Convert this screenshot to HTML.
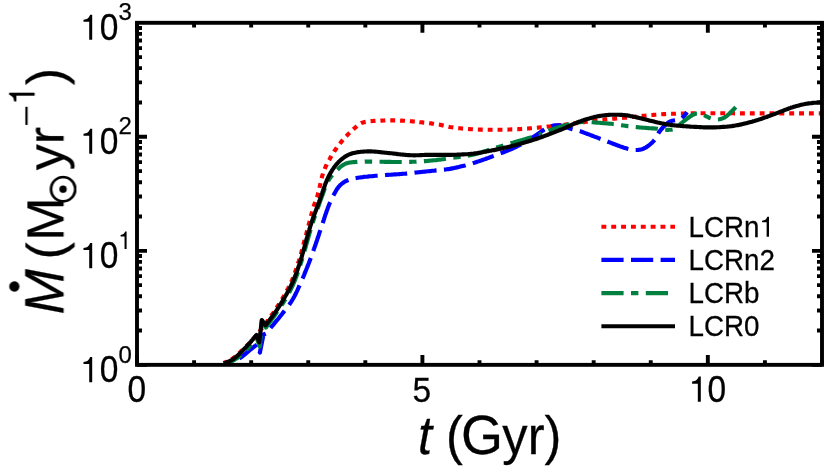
<!DOCTYPE html>
<html><head><meta charset="utf-8"><title>Mdot vs t</title>
<style>
html,body{margin:0;padding:0;background:#fff;}
body{width:830px;height:471px;overflow:hidden;position:relative;font-family:"Liberation Sans",sans-serif;}
</style></head><body>
<svg width="830" height="471" viewBox="0 0 830 471" style="position:absolute;left:0;top:0">
<rect x="0" y="0" width="830" height="471" fill="#ffffff"/>
<defs><clipPath id="cp"><rect x="137.0" y="22.8" width="685.0" height="342.1"/></clipPath></defs>
<g clip-path="url(#cp)">
<path d="M223.5,363.0 L224.2,362.7 L225.1,362.3 L226.1,361.8 L227.3,361.3 L228.6,360.7 L229.9,360.0 L231.3,359.3 L232.7,358.4 L234.0,357.5 L234.9,356.8 L235.8,356.1 L236.7,355.3 L237.7,354.4 L238.7,353.6 L239.7,352.6 L240.7,351.7 L241.6,350.7 L242.6,349.8 L243.6,348.9 L244.5,348.0 L245.4,347.1 L246.2,346.3 L247.0,345.5 L248.1,344.4 L249.1,343.4 L250.0,342.5 L250.9,341.6 L251.7,340.7 L252.5,339.8 L253.3,338.9 L254.1,338.0 L255.0,337.0 L255.8,336.1 L256.5,335.2 L257.3,334.3 L258.0,333.5 L258.7,332.6 L259.5,331.6 L260.3,330.6 L261.1,329.5 L262.0,328.3 L263.0,327.0 L263.6,326.2 L264.3,325.3 L265.0,324.3 L265.7,323.4 L266.4,322.3 L267.2,321.3 L268.0,320.2 L268.8,319.1 L269.6,318.0 L270.3,316.9 L271.1,315.8 L271.9,314.7 L272.7,313.6 L273.4,312.6 L274.1,311.5 L274.8,310.5 L275.5,309.5 L276.2,308.4 L276.9,307.3 L277.6,306.3 L278.3,305.2 L279.0,304.2 L279.6,303.1 L280.2,302.1 L280.9,301.1 L281.5,300.1 L282.1,299.1 L282.7,298.0 L283.3,297.0 L283.9,296.0 L284.4,295.0 L285.0,294.0 L285.6,292.8 L286.3,291.7 L286.9,290.6 L287.5,289.5 L288.1,288.4 L288.6,287.3 L289.2,286.2 L289.8,285.1 L290.3,283.9 L290.9,282.8 L291.4,281.6 L292.0,280.3 L292.5,279.0 L292.9,278.0 L293.3,276.9 L293.8,275.8 L294.2,274.7 L294.6,273.5 L295.0,272.3 L295.5,271.1 L295.9,269.9 L296.3,268.7 L296.7,267.5 L297.1,266.3 L297.5,265.1 L297.9,264.0 L298.2,262.8 L298.6,261.7 L299.0,260.6 L299.3,259.5 L299.7,258.2 L300.1,257.0 L300.4,255.8 L300.8,254.6 L301.1,253.4 L301.4,252.3 L301.7,251.1 L302.0,250.0 L302.3,248.9 L302.6,247.7 L302.9,246.6 L303.2,245.5 L303.5,244.3 L303.8,243.1 L304.1,241.9 L304.5,240.7 L304.8,239.5 L305.1,238.3 L305.4,237.1 L305.8,235.9 L306.1,234.6 L306.4,233.4 L306.7,232.2 L307.1,231.0 L307.4,229.7 L307.7,228.5 L308.1,227.3 L308.4,226.0 L308.7,224.8 L309.0,223.6 L309.3,222.4 L309.7,221.2 L310.0,219.9 L310.3,218.7 L310.6,217.5 L310.9,216.2 L311.3,215.0 L311.6,213.8 L311.9,212.6 L312.2,211.4 L312.6,210.2 L312.9,209.1 L313.2,208.0 L313.6,206.7 L314.0,205.5 L314.4,204.3 L314.8,203.2 L315.2,202.1 L315.6,201.0 L316.0,199.8 L316.4,198.7 L316.8,197.5 L317.3,196.3 L317.7,194.9 L318.1,193.5 L318.4,192.5 L318.7,191.4 L318.9,190.3 L319.2,189.1 L319.5,188.0 L319.7,186.7 L320.0,185.5 L320.3,184.3 L320.5,183.0 L320.8,181.7 L321.1,180.5 L321.4,179.2 L321.7,178.0 L322.0,176.8 L322.3,175.6 L322.7,174.4 L323.0,173.3 L323.4,172.2 L323.9,170.9 L324.4,169.7 L324.9,168.5 L325.4,167.3 L325.9,166.1 L326.5,165.0 L327.0,163.9 L327.6,162.7 L328.2,161.6 L328.8,160.5 L329.4,159.5 L330.0,158.4 L330.6,157.3 L331.3,156.3 L331.9,155.2 L332.5,154.1 L333.2,153.1 L333.9,152.1 L334.5,151.0 L335.2,150.0 L335.9,149.0 L336.6,148.0 L337.3,147.0 L338.0,146.1 L338.7,145.1 L339.5,144.1 L340.2,143.2 L341.0,142.3 L341.7,141.3 L342.5,140.4 L343.3,139.5 L344.1,138.5 L345.0,137.6 L345.8,136.6 L346.7,135.7 L347.6,134.8 L348.5,133.9 L349.4,133.0 L350.3,132.1 L351.2,131.2 L352.1,130.4 L352.9,129.6 L353.7,128.9 L354.5,128.2 L355.2,127.6 L356.4,126.6 L357.4,125.7 L358.3,124.9 L359.2,124.3 L360.1,123.7 L361.1,123.2 L362.3,122.7 L363.7,122.3 L364.6,122.1 L365.6,121.9 L366.7,121.7 L367.8,121.5 L369.0,121.4 L370.2,121.2 L371.4,121.1 L372.7,121.0 L374.0,120.9 L375.3,120.9 L376.6,120.8 L378.0,120.7 L379.3,120.7 L380.7,120.6 L381.8,120.6 L383.0,120.5 L384.2,120.5 L385.5,120.4 L386.7,120.4 L388.0,120.4 L389.3,120.4 L390.6,120.4 L391.9,120.4 L393.2,120.4 L394.5,120.4 L395.8,120.4 L397.0,120.4 L398.3,120.5 L399.6,120.5 L400.8,120.6 L402.0,120.6 L403.3,120.7 L404.7,120.7 L406.0,120.8 L407.3,120.9 L408.6,121.0 L409.9,121.1 L411.2,121.3 L412.5,121.4 L413.7,121.5 L415.0,121.6 L416.2,121.8 L417.4,121.9" fill="none" stroke="#ff0000" stroke-width="4.15" stroke-dasharray="4.90 4.95" stroke-dashoffset="1.11" stroke-linejoin="round"/>
<path d="M417.4,121.9 L417.4,121.9 L418.7,122.0 L419.9,122.2 L421.1,122.3 L422.4,122.4 L423.7,122.6 L425.0,122.7 L426.2,122.9 L427.5,123.0 L428.7,123.1 L430.0,123.3 L431.2,123.4 L432.4,123.6 L433.6,123.7 L434.8,123.9 L435.9,124.1 L437.0,124.2 L438.1,124.4 L439.4,124.6 L440.6,124.9 L441.7,125.1 L442.8,125.4 L443.9,125.7 L444.9,125.9 L446.0,126.2 L447.1,126.5 L448.4,126.7 L449.7,127.0 L451.2,127.2 L452.2,127.3 L453.3,127.5 L454.4,127.6 L455.5,127.8 L456.7,127.9 L457.9,128.1 L459.1,128.2 L460.3,128.3 L461.6,128.5 L462.9,128.6 L464.2,128.7 L465.5,128.8 L466.9,128.9 L468.3,129.0 L469.7,129.1 L471.1,129.2 L472.5,129.3 L473.6,129.4 L474.7,129.4 L475.8,129.4 L477.0,129.5 L478.1,129.5 L479.3,129.6 L480.5,129.6 L481.7,129.6 L482.9,129.6 L484.2,129.7 L485.4,129.7 L486.7,129.7 L487.9,129.7 L489.2,129.7 L490.4,129.7 L491.7,129.7 L492.9,129.7 L494.1,129.7 L495.3,129.7 L496.6,129.7 L497.8,129.7 L498.9,129.7 L500.1,129.7 L501.4,129.7 L502.6,129.7 L503.9,129.6 L505.1,129.6 L506.4,129.6 L507.6,129.6 L508.8,129.5 L510.1,129.5 L511.3,129.4 L512.5,129.4 L513.7,129.3 L514.9,129.3 L516.1,129.2 L517.3,129.2 L518.5,129.1 L519.7,129.1 L520.9,129.0 L522.1,128.9 L523.3,128.8 L524.4,128.8 L525.6,128.7 L526.9,128.6 L528.2,128.5 L529.4,128.4 L530.7,128.3 L532.0,128.2 L533.2,128.1 L534.5,128.0 L535.7,127.9 L537.0,127.8 L538.2,127.6 L539.4,127.5 L540.6,127.4 L541.9,127.3 L543.1,127.1 L544.3,127.0 L545.5,126.9 L546.6,126.8 L547.8,126.6 L549.0,126.5 L550.3,126.4 L551.6,126.2 L553.0,126.1 L554.3,125.9 L555.7,125.8 L557.0,125.6 L558.3,125.4 L559.6,125.3 L560.9,125.1 L562.2,125.0 L563.3,124.8" fill="none" stroke="#ff0000" stroke-width="4.15" stroke-dasharray="4.90 4.95" stroke-dashoffset="7.88" stroke-linejoin="round"/>
<path d="M563.3,124.8 L563.4,124.8 L564.6,124.7 L565.8,124.5 L566.9,124.4 L568.0,124.3 L569.0,124.1 L570.0,124.0 L571.6,123.8 L572.9,123.6 L574.0,123.5 L575.0,123.3 L575.9,123.2 L576.9,123.1 L578.0,122.9 L579.4,122.7 L581.0,122.5 L581.9,122.4 L582.9,122.2 L584.0,122.1 L585.1,121.9 L586.2,121.8 L587.4,121.6 L588.6,121.5 L589.9,121.3 L591.1,121.1 L592.4,121.0 L593.7,120.8 L595.0,120.6 L596.3,120.4 L597.5,120.3 L598.8,120.1 L600.1,120.0 L601.3,119.8 L602.5,119.7 L603.8,119.6 L605.0,119.4 L606.3,119.3 L607.5,119.2 L608.8,119.1 L610.0,119.0 L611.2,118.9 L612.5,118.8 L613.7,118.7 L615.0,118.6 L616.2,118.4 L617.5,118.3 L618.7,118.2 L620.0,118.1 L621.2,118.0 L622.5,117.9 L623.7,117.8 L625.0,117.7 L626.2,117.6 L627.5,117.4 L628.7,117.3 L630.0,117.2 L631.2,117.1 L632.5,116.9 L633.7,116.8 L635.0,116.7 L636.2,116.5 L637.5,116.4 L638.8,116.3 L640.0,116.2 L641.3,116.0 L642.5,115.9 L643.8,115.8 L645.0,115.7 L646.2,115.6 L647.5,115.5 L648.7,115.4 L650.0,115.2 L651.2,115.1 L652.4,115.0 L653.6,114.9 L654.9,114.8 L656.1,114.7 L657.3,114.6 L658.6,114.5 L659.8,114.4 L661.0,114.3 L662.3,114.2 L663.5,114.1 L664.8,114.1 L666.0,114.0 L667.3,113.9 L668.6,113.9 L669.9,113.8 L671.2,113.8 L672.6,113.7 L673.9,113.7 L675.3,113.7 L676.6,113.6 L677.9,113.6 L679.3,113.6 L680.6,113.5 L681.8,113.5 L683.0,113.5 L684.2,113.5 L685.4,113.4 L686.5,113.4 L687.5,113.4 L688.9,113.4 L689.8,113.3 L690.4,113.3 L690.9,113.3 L691.3,113.3 L692.0,113.2 L693.0,113.2 L694.6,113.2 L696.9,113.2 L700.0,113.2 L700.7,113.2 L701.5,113.2 L702.3,113.2 L703.2,113.2 L704.1,113.2 L705.0,113.2 L705.9,113.2 L706.9,113.2 L707.9,113.2 L708.9,113.2 L710.0,113.2 L711.1,113.2 L712.2,113.2 L713.3,113.2 L714.4,113.2 L715.6,113.2 L716.8,113.2 L718.0,113.2 L719.2,113.2 L720.5,113.2 L721.7,113.2 L723.0,113.2 L724.3,113.2 L725.6,113.2 L726.9,113.2 L728.2,113.2 L729.6,113.2 L730.9,113.2 L732.2,113.2 L733.6,113.3 L734.9,113.3 L736.3,113.3 L737.6,113.3 L739.0,113.3 L740.4,113.3 L741.7,113.3 L743.1,113.3 L744.4,113.3 L745.8,113.3 L747.1,113.3 L748.4,113.3 L749.8,113.3 L751.1,113.3 L752.4,113.3 L753.7,113.3 L755.0,113.3 L756.3,113.3 L757.5,113.3 L758.8,113.3 L760.0,113.3 L761.2,113.3 L762.4,113.3 L763.7,113.3 L765.0,113.3 L766.3,113.3 L767.6,113.3 L768.9,113.3 L770.3,113.3 L771.6,113.3 L773.0,113.3 L774.4,113.3 L775.8,113.3 L777.2,113.3 L778.6,113.3 L780.0,113.3 L781.4,113.3 L782.8,113.3 L784.2,113.3 L785.7,113.3 L787.1,113.3 L788.5,113.3 L789.9,113.3 L791.3,113.3 L792.7,113.3 L794.1,113.3 L795.4,113.3 L796.8,113.3 L798.1,113.3 L799.5,113.3 L800.8,113.3 L802.1,113.3 L803.4,113.3 L804.6,113.3 L805.9,113.3 L807.1,113.3 L808.2,113.3 L809.4,113.3 L810.5,113.3 L811.6,113.3 L812.7,113.3 L813.7,113.3 L814.7,113.3 L815.7,113.3 L816.6,113.3 L817.5,113.3 L818.4,113.3 L819.2,113.3 L820.0,113.3 L820.7,113.3 L821.4,113.3 L822.0,113.3" fill="none" stroke="#ff0000" stroke-width="4.15" stroke-dasharray="4.90 4.95" stroke-dashoffset="9.79" stroke-linejoin="round"/>
<path d="M226.7,365.0 L227.4,364.7 L228.2,364.3 L229.2,363.8 L230.3,363.2 L231.5,362.6 L232.7,362.0 L234.0,361.3 L235.3,360.7 L236.6,360.0 L237.8,359.3 L239.0,358.6 L240.0,358.0 L241.1,357.2 L242.3,356.4 L243.3,355.6 L244.4,354.8 L245.4,353.9 L246.4,353.1 L247.3,352.2 L248.2,351.5 L249.1,350.7 L250.0,350.0 L251.2,349.0 L252.4,348.1 L253.6,347.2 L254.6,346.3 L255.6,345.6 L256.4,345.0 L257.0,344.5 L259.9,352.5 L263.5,334.5 L265.9,333.5 L266.3,333.0 L266.9,332.3 L267.5,331.6 L268.2,330.8 L268.9,329.9 L269.7,329.0 L270.6,328.0 L271.4,326.9 L272.3,325.9 L273.3,324.8 L274.2,323.6 L275.1,322.5 L276.0,321.4 L276.9,320.3 L277.8,319.3 L278.7,318.2 L279.5,317.2 L280.2,316.3 L281.1,315.2 L281.9,314.2 L282.7,313.1 L283.5,312.1 L284.3,311.1 L285.1,310.1 L285.9,309.1 L286.7,308.2 L287.4,307.2 L288.2,306.2 L288.9,305.2 L289.6,304.2 L290.3,303.1 L291.0,302.1 L291.7,301.0 L292.3,300.0 L292.9,299.0 L293.5,298.0 L294.0,297.0 L294.6,296.0 L295.1,295.0 L295.6,294.0 L296.1,293.0 L296.6,291.9 L297.1,290.9 L297.6,289.8 L298.1,288.6 L298.6,287.5 L299.2,286.3 L299.7,285.1 L300.3,283.8 L300.7,282.8 L301.2,281.8 L301.7,280.7 L302.1,279.6 L302.6,278.5 L303.1,277.3 L303.6,276.2 L304.1,275.0 L304.5,273.8 L305.0,272.6 L305.5,271.4 L306.0,270.2 L306.5,269.0 L307.0,267.8 L307.5,266.6 L307.9,265.4 L308.4,264.2 L308.9,263.0 L309.3,261.8 L309.8,260.6 L310.2,259.5 L310.6,258.3 L311.1,257.1 L311.5,256.0 L311.9,254.8 L312.3,253.7 L312.7,252.6 L313.1,251.4 L313.5,250.3 L313.9,249.2 L314.3,248.0 L314.7,246.9 L315.1,245.8 L315.5,244.6 L315.9,243.4 L316.3,242.3 L316.7,241.1 L317.1,239.9 L317.5,238.6 L318.0,237.4 L318.4,236.1 L318.8,235.0 L319.1,233.9 L319.5,232.7 L319.9,231.5 L320.3,230.3 L320.7,229.1 L321.1,227.9 L321.5,226.6 L321.9,225.3 L322.4,224.1 L322.8,222.8 L323.2,221.5 L323.6,220.3 L324.0,219.0 L324.4,217.8 L324.8,216.6 L325.2,215.4 L325.6,214.2 L326.0,213.1 L326.4,212.0 L326.7,210.9 L327.1,209.9 L327.5,208.9 L327.8,208.0 L328.4,206.4 L329.0,204.9 L329.6,203.5 L330.2,202.2 L330.7,200.9 L331.3,199.7 L331.8,198.6 L332.3,197.6 L332.8,196.6 L333.3,195.6 L333.8,194.7 L334.3,193.8 L334.8,192.9 L335.6,191.5 L336.3,190.3 L336.9,189.3 L337.6,188.3 L338.2,187.4 L338.9,186.6 L339.6,185.8 L340.4,185.0 L341.3,184.1 L342.3,183.4 L343.2,182.7 L344.2,182.0 L345.3,181.4 L346.5,180.8 L347.8,180.3 L348.8,179.9 L349.7,179.6 L350.7,179.3 L351.7,179.0 L352.8,178.7 L353.9,178.5 L355.2,178.2 L356.5,178.0 L357.9,177.7 L359.5,177.5 L360.5,177.4 L361.6,177.2 L362.7,177.1 L363.8,176.9 L365.0,176.8 L366.3,176.7 L367.5,176.6 L368.8,176.4 L370.2,176.3 L371.5,176.2 L372.8,176.1 L374.2,176.0 L375.5,175.8 L376.8,175.7 L378.1,175.6 L379.4,175.5 L380.7,175.4 L382.0,175.3 L383.2,175.2 L384.5,175.1 L385.7,175.0 L387.0,174.9 L388.2,174.9 L389.5,174.8 L390.7,174.7 L392.0,174.6 L393.2,174.5 L394.5,174.4 L395.7,174.4 L397.0,174.3 L398.2,174.2 L399.5,174.1 L400.7,174.0 L402.0,173.9 L403.3,173.8 L404.5,173.7 L405.9,173.6 L407.2,173.4 L408.5,173.3 L409.8,173.2 L411.2,173.0 L412.5,172.9 L413.8,172.8 L415.1,172.6 L416.3,172.5 L417.6,172.4 L418.8,172.3 L420.0,172.1 L421.1,172.0 L422.2,171.9 L423.2,171.8 L424.8,171.6 L426.3,171.5 L427.6,171.3 L428.8,171.2 L430.0,171.1 L431.1,171.0 L432.2,170.8 L433.4,170.7 L434.7,170.6 L436.0,170.4 L437.2,170.3 L438.3,170.2 L439.5,170.1 L440.7,170.0 L441.9,169.9 L443.1,169.7 L444.3,169.6 L445.6,169.5 L446.9,169.3 L448.3,169.1 L449.7,168.9 L451.2,168.6 L452.2,168.4 L453.3,168.2 L454.4,167.9 L455.5,167.7 L456.7,167.4 L457.9,167.2 L459.0,166.9 L460.3,166.6 L461.5,166.3 L462.7,166.0 L463.9,165.7 L465.2,165.4 L466.4,165.0 L467.7,164.7 L468.9,164.3 L470.1,164.0 L471.3,163.7 L472.5,163.3 L473.7,162.9 L474.9,162.6 L476.0,162.2 L477.2,161.8 L478.4,161.4 L479.6,161.0 L480.7,160.6 L481.9,160.2 L483.1,159.8 L484.3,159.4 L485.5,159.0 L486.6,158.5 L487.8,158.1 L489.0,157.7 L490.2,157.2 L491.3,156.8 L492.5,156.3 L493.7,155.9 L494.8,155.5 L496.0,155.1 L497.1,154.6 L498.3,154.2 L499.4,153.8 L500.6,153.3 L501.7,152.9 L502.9,152.5 L504.0,152.0 L505.2,151.6 L506.3,151.1 L507.5,150.7 L508.6,150.2 L509.7,149.7 L510.8,149.3 L511.9,148.8 L512.9,148.3 L514.0,147.9 L515.0,147.4 L516.2,146.8 L517.4,146.2 L518.5,145.7 L519.7,145.1 L520.8,144.4 L521.9,143.8 L523.0,143.2 L524.0,142.6 L525.1,142.0 L526.1,141.4 L527.1,140.8 L528.2,140.1 L529.1,139.5 L530.0,139.0" fill="none" stroke="#0000ff" stroke-width="4.15" stroke-dasharray="22.20 7.40" stroke-dashoffset="15.32" stroke-linejoin="round"/>
<path d="M530.0,139.0 L530.1,139.0 L531.1,138.4 L532.0,137.8 L533.2,137.0 L534.4,136.3 L535.6,135.5 L536.8,134.7 L537.9,133.9 L539.0,133.1 L540.1,132.4 L541.1,131.7 L542.1,131.0 L543.0,130.4 L543.9,129.8 L544.7,129.3 L546.4,128.3 L547.7,127.6 L548.9,127.1 L549.9,126.7 L551.0,126.3 L552.3,125.9 L553.5,125.6 L554.7,125.4 L556.0,125.3 L557.1,125.3 L558.1,125.2 L559.2,125.3 L560.5,125.5 L562.0,125.8 L563.0,126.1 L564.2,126.4 L565.5,126.9 L566.8,127.3 L568.2,127.8 L569.5,128.3 L570.8,128.8 L572.0,129.2 L573.1,129.5 L574.7,129.9 L575.9,130.2 L577.1,130.4 L578.3,130.7 L579.8,131.1 L580.8,131.4 L581.8,131.8 L582.9,132.2 L584.0,132.6 L585.2,133.1 L586.4,133.5 L587.6,134.0 L588.8,134.4 L590.0,134.9 L591.1,135.3 L592.2,135.7 L593.3,136.1 L594.5,136.6 L595.6,137.0 L596.8,137.4 L597.9,137.9 L599.1,138.3 L600.2,138.8 L601.4,139.2 L602.6,139.6 L603.8,140.1 L605.0,140.6 L606.2,141.0 L607.4,141.5 L608.6,142.0 L609.8,142.4 L610.9,142.9 L612.0,143.3 L613.1,143.7 L614.5,144.2 L615.9,144.8 L617.2,145.3 L618.4,145.7 L619.6,146.2 L620.8,146.6 L622.0,147.0 L623.4,147.5 L624.8,147.9 L626.2,148.3 L627.5,148.7 L628.8,149.0 L630.0,149.3 L631.3,149.6 L632.5,149.8 L633.7,149.9 L634.8,150.0 L636.0,150.0 L637.2,150.0 L638.4,149.9 L639.6,149.8 L640.8,149.5 L642.0,149.2 L643.2,148.8 L644.4,148.2 L645.6,147.6 L646.8,146.9 L648.0,146.0 L648.9,145.3 L649.9,144.5 L650.9,143.7 L651.9,142.8 L652.8,141.9 L653.7,140.9 L654.5,140.0 L655.3,138.9 L656.0,137.6 L656.7,136.4 L657.3,135.2 L657.9,134.0 L658.5,133.0 L659.4,131.7 L660.2,130.6 L661.1,129.5 L662.0,128.5 L663.0,127.4 L664.0,126.4 L665.0,125.4 L666.0,124.5 L667.0,123.6 L667.9,122.8 L668.9,122.1 L670.0,121.5 L671.2,121.1 L672.5,120.8 L673.8,120.5 L675.0,120.3 L676.5,120.1 L677.8,119.9 L679.0,119.6 L680.4,119.0 L681.7,118.2 L682.6,117.4 L683.6,116.5 L684.5,115.5 L685.4,114.3 L686.4,113.1 L687.0,112.2" fill="none" stroke="#0000ff" stroke-width="4.15" stroke-dasharray="22.20 7.40" stroke-dashoffset="4.81" stroke-linejoin="round"/>
<path d="M225.0,364.5 L225.6,364.2 L226.4,363.8 L227.4,363.3 L228.4,362.9 L229.5,362.3 L230.8,361.7 L232.0,361.1 L233.3,360.4 L234.5,359.7 L235.7,359.0 L236.9,358.3 L238.0,357.5 L239.0,356.8 L240.0,355.9 L241.0,355.1 L241.9,354.2 L242.9,353.3 L243.9,352.3 L244.9,351.4 L245.8,350.4 L246.7,349.5 L247.6,348.5 L248.5,347.6 L249.3,346.8 L250.0,346.0 L251.1,344.7 L252.2,343.5 L253.1,342.2 L254.0,341.0 L254.8,339.9 L255.5,339.0 L256.0,338.1 L256.5,337.5 L259.8,346.5 L262.0,319.5 L266.0,327.5 L266.4,326.9 L266.9,326.2 L267.5,325.4 L268.2,324.5 L268.9,323.5 L269.7,322.4 L270.5,321.3 L271.3,320.1 L272.1,318.9 L273.0,317.7 L273.9,316.5 L274.7,315.3 L275.5,314.2 L276.3,313.1 L277.0,312.0 L277.7,311.0 L278.4,309.9 L279.1,308.9 L279.8,307.9 L280.5,306.9 L281.2,305.8 L281.8,304.8 L282.5,303.8 L283.2,302.8 L283.9,301.7 L284.5,300.7 L285.1,299.7 L285.8,298.6 L286.4,297.6 L287.0,296.5 L287.6,295.4 L288.2,294.4 L288.7,293.3 L289.3,292.3 L289.9,291.2 L290.4,290.2 L290.9,289.1 L291.4,288.0 L292.0,286.9 L292.5,285.8 L293.0,284.7 L293.5,283.6 L294.0,282.4 L294.5,281.2 L295.0,280.0 L295.4,279.0 L295.8,278.0 L296.2,277.0 L296.6,275.9 L296.9,274.9 L297.3,273.9 L297.7,272.9 L298.0,271.8 L298.4,270.8 L298.8,269.7 L299.1,268.6 L299.5,267.4 L299.9,266.2 L300.3,265.0 L300.7,263.7 L301.1,262.3 L301.6,260.9 L302.0,259.5 L302.3,258.5 L302.6,257.5 L302.9,256.5 L303.2,255.4 L303.5,254.3 L303.9,253.2 L304.2,252.0 L304.5,250.9 L304.9,249.7 L305.2,248.5 L305.6,247.3 L305.9,246.0 L306.2,244.8 L306.6,243.6 L306.9,242.3 L307.3,241.0 L307.7,239.8 L308.0,238.5 L308.4,237.3 L308.7,236.1 L309.1,234.8 L309.4,233.6 L309.8,232.4 L310.1,231.2 L310.5,230.1 L310.8,228.9 L311.2,227.8 L311.5,226.7 L311.9,225.4 L312.3,224.2 L312.7,222.9 L313.1,221.7 L313.5,220.4 L313.9,219.2 L314.3,218.0 L314.7,216.7 L315.2,215.5 L315.6,214.3 L316.0,213.1 L316.4,212.0 L316.8,210.8 L317.2,209.6 L317.6,208.5 L318.0,207.4 L318.4,206.3 L318.8,205.2 L319.2,204.1 L319.5,203.0 L319.9,202.0 L320.3,201.0 L320.6,200.0 L321.0,199.0 L321.5,197.6 L322.0,196.2 L322.5,194.9 L323.0,193.6 L323.4,192.3 L323.9,191.1 L324.3,189.9 L324.7,188.7 L325.2,187.6 L325.6,186.5 L326.1,185.5 L326.5,184.4 L327.0,183.4 L327.5,182.4 L328.0,181.4 L328.5,180.5 L329.2,179.3 L330.0,178.1 L330.8,177.0 L331.7,175.9 L332.5,174.9 L333.3,173.9 L334.2,173.0 L335.0,172.1 L335.9,171.3 L336.7,170.5 L337.5,169.7 L338.2,169.0 L339.4,167.9 L340.4,166.9 L341.5,166.1 L342.5,165.4 L343.5,164.8 L344.5,164.2 L345.7,163.7 L346.7,163.3 L347.7,163.0 L348.7,162.7 L349.7,162.5 L350.8,162.4 L352.1,162.2 L353.5,162.1 L355.2,162.0 L356.1,161.9 L357.1,161.9 L358.2,161.8 L359.3,161.8 L360.4,161.8 L361.6,161.7 L362.8,161.7 L364.1,161.7 L365.3,161.6 L366.6,161.6 L367.9,161.6 L369.2,161.6 L370.5,161.6 L371.8,161.6 L373.1,161.6 L374.4,161.6 L375.6,161.6 L376.8,161.6 L378.0,161.6 L379.3,161.7 L380.5,161.7 L381.7,161.7 L383.0,161.7 L384.2,161.8 L385.5,161.8 L386.8,161.9 L388.0,161.9 L389.3,161.9 L390.6,161.9 L391.8,162.0 L393.1,162.0 L394.3,162.0 L395.6,162.0 L396.9,162.0 L398.1,162.0 L399.4,162.0 L400.6,162.0 L401.9,162.0 L403.2,162.0 L404.4,161.9 L405.7,161.9 L407.0,161.9 L408.2,161.9 L409.5,161.9 L410.7,161.8 L411.9,161.8 L413.2,161.7 L414.4,161.7 L415.6,161.7 L416.8,161.6 L418.1,161.5 L419.3,161.5 L420.6,161.4 L421.8,161.3 L423.1,161.2 L424.3,161.1 L425.6,161.1 L426.8,161.0 L428.0,160.9 L429.2,160.8 L430.4,160.6 L431.5,160.5 L432.7,160.4 L433.8,160.3 L434.9,160.2 L436.0,160.1 L437.4,159.9 L438.7,159.8 L439.9,159.6 L441.1,159.5 L442.3,159.3 L443.5,159.2 L444.6,159.0 L445.8,158.8 L447.1,158.6 L448.4,158.4 L449.7,158.2 L451.2,158.0 L452.3,157.8 L453.4,157.7 L454.6,157.5 L455.8,157.4 L457.0,157.2 L458.3,157.1 L459.5,156.9 L460.8,156.8 L462.1,156.6 L463.4,156.4 L464.7,156.2 L466.1,156.0 L467.4,155.8 L468.7,155.6 L470.0,155.3 L471.2,155.1 L472.5,154.8 L473.7,154.5 L474.9,154.2 L476.0,153.9 L477.2,153.6 L478.4,153.3 L479.6,152.9 L480.7,152.5 L481.9,152.2 L483.1,151.8 L484.3,151.4 L485.5,151.0 L486.6,150.7 L487.8,150.3 L489.0,149.9 L490.2,149.5 L491.3,149.1 L492.5,148.8 L493.7,148.4 L494.9,148.0 L496.1,147.7 L497.2,147.3 L498.4,147.0 L499.6,146.6 L500.8,146.3 L502.0,145.9 L503.2,145.6 L504.4,145.2 L505.5,144.8 L506.7,144.5 L507.9,144.1 L509.1,143.8 L510.3,143.4 L511.5,143.1 L512.6,142.7 L513.8,142.4 L515.0,142.0 L516.2,141.6 L517.4,141.3 L518.6,140.9 L519.9,140.6 L521.1,140.2 L522.3,139.9 L523.6,139.5 L524.8,139.2 L526.1,138.8 L527.3,138.4 L528.5,138.1 L529.7,137.7 L530.8,137.4 L532.0,137.1 L533.1,136.7 L534.2,136.4 L535.2,136.0 L536.2,135.7 L537.6,135.2 L539.0,134.7 L540.0,134.3" fill="none" stroke="#008040" stroke-width="4.15" stroke-dasharray="22.20 7.40 7.40 7.40" stroke-dashoffset="3.58" stroke-linejoin="round"/>
<path d="M540.0,134.3 L540.3,134.2 L541.6,133.7 L542.8,133.2 L543.9,132.7 L545.0,132.2 L546.1,131.8 L547.2,131.3 L548.2,130.9 L549.2,130.5 L550.2,130.1 L551.6,129.6 L552.9,129.1 L554.2,128.7 L555.3,128.3 L556.5,127.9 L557.6,127.5 L558.8,127.2 L560.0,126.8 L561.2,126.4 L562.5,126.1 L563.7,125.7 L564.9,125.4 L566.2,125.0 L567.4,124.7 L568.7,124.4 L570.1,124.1 L571.2,123.9 L572.4,123.6 L573.6,123.4 L574.8,123.1 L576.0,122.9 L577.2,122.6 L578.4,122.4 L579.6,122.3 L580.8,122.1 L582.0,122.0 L583.3,121.9 L584.5,121.9 L585.7,121.9 L587.0,121.9 L588.2,122.0 L589.4,122.1 L590.6,122.1 L591.8,122.2 L593.0,122.3 L594.2,122.4 L595.5,122.5 L596.7,122.6 L597.9,122.7 L599.2,122.8 L600.4,122.9 L601.6,123.0 L602.8,123.1 L604.0,123.2 L605.3,123.3 L606.6,123.4 L607.8,123.5 L609.1,123.6 L610.3,123.7 L611.5,123.8 L612.8,124.0 L614.1,124.1 L615.3,124.2 L616.5,124.4 L617.7,124.6 L618.9,124.8 L620.1,125.0 L621.4,125.2 L622.6,125.4 L623.8,125.5 L625.0,125.7 L626.3,125.9 L627.6,126.1 L628.9,126.2 L630.2,126.4 L631.5,126.5 L632.8,126.7 L634.1,126.9 L635.5,127.0 L636.7,127.1 L638.0,127.2 L639.3,127.4 L640.6,127.5 L641.9,127.6 L643.2,127.7 L644.5,127.8 L645.7,127.9 L647.0,128.0 L648.2,128.1 L649.5,128.2 L650.8,128.3 L652.0,128.4 L653.3,128.4 L654.5,128.5 L655.6,128.6 L656.8,128.7 L657.8,128.8 L659.2,129.0 L660.5,129.1 L661.7,129.3 L662.8,129.5 L663.9,129.6 L665.1,129.7 L666.3,129.8 L667.6,129.8 L668.9,129.8 L670.2,129.7 L671.3,129.7 L672.4,129.5 L673.8,129.2 L674.9,128.7 L676.0,128.2 L677.0,127.5 L678.0,126.7 L678.9,125.7 L679.8,124.7 L681.0,123.5 L681.9,122.8 L682.8,122.0 L683.9,121.1 L685.0,120.3 L686.1,119.4 L687.1,118.7 L688.0,118.0 L689.4,117.0 L690.7,116.1 L691.9,115.4 L693.0,114.8 L694.3,114.2 L695.4,113.8 L696.5,113.5 L698.2,113.4 L700.0,113.6 L701.2,113.9 L702.4,114.4 L703.6,114.9 L704.8,115.5 L705.9,116.1 L707.0,116.7 L708.6,117.5 L710.2,118.2 L711.4,118.6 L712.7,119.0 L714.0,119.3 L715.4,119.5 L716.7,119.6 L718.1,119.5 L719.4,119.3 L720.7,118.9 L722.0,118.5 L723.1,118.1 L724.2,117.6 L725.4,116.9 L726.2,116.3 L727.1,115.6 L728.0,114.8 L729.0,114.0 L730.0,113.0 L730.8,112.2 L731.8,111.2 L732.8,110.2 L733.8,109.2 L734.7,108.3 L735.4,107.5 L736.0,106.9" fill="none" stroke="#008040" stroke-width="4.15" stroke-dasharray="22.20 7.40 7.40 7.40" stroke-dashoffset="35.18" stroke-linejoin="round"/>
<path d="M223.9,363.5 L224.6,363.2 L225.5,362.8 L226.6,362.4 L227.7,361.9 L229.0,361.4 L230.4,360.7 L231.7,360.0 L233.1,359.2 L234.4,358.3 L235.2,357.6 L236.1,356.9 L237.0,356.1 L237.9,355.3 L238.9,354.4 L239.8,353.5 L240.8,352.5 L241.7,351.6 L242.6,350.6 L243.5,349.7 L244.4,348.8 L245.2,347.9 L246.0,347.1 L246.7,346.4 L247.8,345.2 L248.9,344.0 L249.8,343.0 L250.7,341.9 L251.5,341.0 L252.2,340.1 L252.9,339.3 L253.5,338.5 L254.9,336.8 L255.9,335.7 L256.5,334.9 L259.3,342.3 L261.8,320.0 L265.6,325.4 L266.0,324.8 L266.5,324.2 L267.1,323.4 L267.7,322.5 L268.4,321.6 L269.2,320.6 L270.0,319.5 L270.8,318.4 L271.7,317.3 L272.5,316.1 L273.3,315.0 L274.2,313.8 L274.9,312.7 L275.7,311.6 L276.4,310.6 L277.1,309.6 L277.7,308.6 L278.4,307.6 L279.1,306.6 L279.7,305.5 L280.4,304.5 L281.0,303.5 L281.7,302.5 L282.3,301.4 L282.9,300.4 L283.5,299.4 L284.1,298.4 L284.7,297.3 L285.3,296.3 L285.9,295.3 L286.5,294.2 L287.1,293.2 L287.7,292.1 L288.2,291.1 L288.8,290.0 L289.3,289.0 L289.9,288.0 L290.4,286.9 L291.0,285.8 L291.5,284.8 L292.0,283.6 L292.5,282.5 L293.1,281.3 L293.6,280.0 L294.0,279.0 L294.4,278.0 L294.8,277.0 L295.2,276.0 L295.6,275.0 L296.0,274.0 L296.4,273.0 L296.8,271.9 L297.2,270.8 L297.5,269.7 L297.9,268.6 L298.3,267.4 L298.7,266.2 L299.2,265.0 L299.6,263.7 L300.0,262.3 L300.4,261.0 L300.9,259.5 L301.2,258.5 L301.5,257.5 L301.8,256.5 L302.1,255.4 L302.4,254.3 L302.7,253.2 L303.1,252.1 L303.4,250.9 L303.7,249.7 L304.0,248.5 L304.4,247.3 L304.7,246.0 L305.0,244.8 L305.4,243.6 L305.7,242.3 L306.1,241.1 L306.4,239.8 L306.7,238.6 L307.1,237.3 L307.4,236.1 L307.8,234.8 L308.1,233.6 L308.5,232.4 L308.8,231.2 L309.2,230.1 L309.5,228.9 L309.9,227.8 L310.2,226.7 L310.6,225.4 L311.0,224.2 L311.4,222.9 L311.9,221.7 L312.3,220.4 L312.7,219.2 L313.1,218.0 L313.6,216.8 L314.0,215.5 L314.4,214.3 L314.9,213.1 L315.3,212.0 L315.8,210.8 L316.2,209.6 L316.6,208.5 L317.0,207.3 L317.5,206.2 L317.9,205.1 L318.3,204.0 L318.7,202.9 L319.1,201.9 L319.5,200.8 L319.8,199.8 L320.2,198.8 L320.7,197.4 L321.2,196.0 L321.6,194.7 L322.1,193.4 L322.5,192.1 L323.0,190.8 L323.4,189.6 L323.8,188.4 L324.2,187.2 L324.6,186.1 L325.0,184.9 L325.4,183.8 L325.8,182.7 L326.3,181.7 L326.7,180.6 L327.1,179.6 L327.6,178.6 L328.2,177.3 L328.8,176.1 L329.5,174.9 L330.1,173.7 L330.7,172.6 L331.4,171.5 L332.0,170.4 L332.7,169.4 L333.4,168.4 L334.0,167.5 L334.7,166.6 L335.4,165.7 L336.1,164.8 L337.0,163.7 L338.0,162.7 L338.9,161.7 L339.9,160.8 L340.8,159.9 L341.8,159.1 L342.8,158.3 L343.8,157.6 L344.7,156.9 L345.7,156.3 L346.9,155.6 L348.0,155.0 L349.0,154.5 L350.1,154.1 L351.2,153.7 L352.4,153.3 L353.8,153.0 L355.2,152.7 L356.2,152.5 L357.3,152.3 L358.4,152.1 L359.6,152.0 L360.8,151.8 L362.1,151.7 L363.3,151.6 L364.6,151.5 L366.0,151.5 L367.3,151.4 L368.7,151.4 L370.1,151.4 L371.2,151.4 L372.4,151.5 L373.6,151.5 L374.8,151.6 L376.1,151.7 L377.3,151.8 L378.6,152.0 L379.9,152.1 L381.2,152.2 L382.5,152.4 L383.8,152.5 L385.2,152.7 L386.5,152.8 L387.9,153.0 L389.2,153.1 L390.4,153.2 L391.6,153.3 L392.9,153.5 L394.1,153.6 L395.4,153.8 L396.6,153.9 L397.9,154.1 L399.2,154.2 L400.5,154.4 L401.7,154.5 L403.0,154.6 L404.3,154.8 L405.6,154.9 L406.8,155.0 L408.1,155.1 L409.3,155.1 L410.5,155.2 L411.8,155.2 L413.0,155.3 L414.2,155.3 L415.5,155.3 L416.7,155.2 L417.9,155.2 L419.1,155.2 L420.3,155.1 L421.4,155.1 L422.6,155.0 L423.8,155.0 L425.0,154.9 L426.3,154.9 L427.5,154.8 L428.7,154.8 L430.0,154.8 L431.2,154.8 L432.4,154.8 L433.6,154.8 L434.9,154.8 L436.1,154.8 L437.4,154.8 L438.6,154.8 L439.9,154.8 L441.1,154.8 L442.4,154.9 L443.6,154.9 L444.9,154.9 L446.2,154.9 L447.4,154.9 L448.7,154.8 L449.9,154.8 L451.2,154.8 L452.5,154.8 L453.7,154.7 L455.0,154.7 L456.2,154.7 L457.5,154.6 L458.7,154.6 L460.0,154.6 L461.2,154.5 L462.5,154.4 L463.7,154.4 L465.0,154.3 L466.2,154.2 L467.5,154.2 L468.7,154.1 L470.0,154.0 L471.2,153.8 L472.5,153.7 L473.7,153.6 L475.0,153.4 L476.2,153.2 L477.5,153.1 L478.7,152.9 L480.0,152.7 L481.2,152.5 L482.5,152.2 L483.7,152.0 L485.0,151.8 L486.2,151.6 L487.5,151.3 L488.7,151.1 L490.0,150.8 L491.2,150.6 L492.5,150.3 L493.7,150.1 L494.9,149.9 L496.1,149.6 L497.2,149.4 L498.4,149.1 L499.6,148.9 L500.8,148.6 L502.0,148.4 L503.2,148.1 L504.4,147.8 L505.5,147.5 L506.7,147.3 L507.9,147.0 L509.1,146.7 L510.3,146.4 L511.5,146.1 L512.6,145.8 L513.8,145.5 L515.0,145.2 L516.2,144.9 L517.4,144.6 L518.6,144.2 L519.8,143.9 L521.0,143.5 L522.3,143.2 L523.5,142.8 L524.7,142.5 L525.9,142.1 L527.2,141.7 L528.4,141.4 L529.5,141.0 L530.7,140.7 L531.9,140.3 L533.0,139.9 L534.1,139.6 L535.2,139.2 L536.2,138.9 L537.5,138.5 L538.8,138.0 L540.0,137.6 L541.2,137.2 L542.4,136.8 L543.5,136.3 L544.7,135.9 L545.8,135.5 L546.9,135.1 L547.9,134.7 L549.0,134.3 L550.0,133.9 L551.0,133.5 L552.0,133.1 L553.4,132.6 L554.7,132.1 L555.9,131.6 L557.1,131.1 L558.3,130.7 L559.4,130.2 L560.6,129.8 L561.7,129.3 L562.9,128.8 L564.1,128.3 L565.3,127.8 L566.5,127.2 L567.7,126.7 L568.9,126.1 L570.1,125.6 L571.3,125.0 L572.5,124.5 L573.7,123.9 L574.9,123.4 L576.1,122.9 L577.3,122.4 L578.5,122.0 L579.7,121.5 L580.9,121.1 L582.1,120.6 L583.4,120.2 L584.6,119.8 L585.8,119.4 L587.0,119.1 L588.2,118.7 L589.4,118.4 L590.6,118.0 L591.8,117.7 L593.0,117.4 L594.2,117.1 L595.4,116.8 L596.6,116.6 L597.8,116.3 L599.0,116.1 L600.2,115.9 L601.4,115.7 L602.6,115.5 L603.8,115.4 L605.0,115.2 L606.3,115.1 L607.5,115.0 L608.7,114.9 L609.9,114.8 L611.1,114.7 L612.3,114.7 L613.5,114.7 L614.8,114.7 L616.0,114.7 L617.3,114.7 L618.5,114.7 L619.7,114.8 L620.9,114.8 L622.1,114.9 L623.2,115.0 L624.3,115.1 L625.7,115.2 L627.0,115.4 L628.2,115.6 L629.3,115.8 L630.5,116.1 L631.7,116.3 L633.0,116.6 L634.2,116.8 L635.4,117.1 L636.6,117.4 L637.9,117.6 L639.2,117.9 L640.5,118.2 L641.9,118.6 L643.3,118.9 L644.4,119.2 L645.5,119.4 L646.7,119.7 L647.9,120.1 L649.1,120.4 L650.3,120.7 L651.6,121.0 L652.8,121.3 L654.1,121.6 L655.3,121.9 L656.5,122.2 L657.7,122.5 L658.9,122.7 L660.1,123.0 L661.3,123.3 L662.5,123.5 L663.8,123.7 L665.0,124.0 L666.2,124.2 L667.4,124.4 L668.6,124.6 L669.8,124.8 L671.0,125.0 L672.2,125.1 L673.4,125.3 L674.6,125.4 L675.8,125.5 L677.0,125.6 L678.2,125.7 L679.4,125.8 L680.6,125.9 L681.8,126.0 L683.0,126.1 L684.2,126.2 L685.4,126.3 L686.6,126.4 L687.7,126.4 L688.9,126.5 L690.1,126.6 L691.3,126.7 L692.5,126.7 L693.7,126.8 L695.0,126.8 L696.3,126.9 L697.4,127.0 L698.5,127.0 L699.6,127.1 L700.7,127.1 L701.9,127.2 L703.0,127.3 L704.2,127.3 L705.4,127.4 L706.6,127.4 L707.9,127.4 L709.2,127.4 L710.5,127.4 L711.9,127.4 L713.0,127.4 L714.1,127.3 L715.3,127.3 L716.5,127.3 L717.7,127.2 L719.0,127.2 L720.2,127.1 L721.5,127.0 L722.8,126.9 L724.1,126.9 L725.4,126.8 L726.7,126.7 L728.0,126.5 L729.3,126.4 L730.6,126.2 L731.8,126.1 L733.1,125.9 L734.3,125.7 L735.5,125.5 L736.6,125.3 L737.8,125.1 L739.0,124.9 L740.2,124.6 L741.4,124.4 L742.6,124.1 L743.8,123.8 L744.9,123.5 L746.1,123.2 L747.3,122.9 L748.5,122.6 L749.7,122.3 L750.9,122.0 L752.0,121.7 L753.2,121.3 L754.4,121.0 L755.6,120.6 L756.8,120.3 L758.0,119.9 L759.2,119.5 L760.4,119.1 L761.6,118.7 L762.8,118.3 L764.1,117.8 L765.3,117.4 L766.5,117.0 L767.7,116.5 L768.8,116.1 L770.0,115.7 L771.2,115.2 L772.3,114.8 L773.4,114.4 L774.5,114.0 L775.6,113.6 L776.9,113.1 L778.1,112.7 L779.3,112.2 L780.5,111.7 L781.7,111.3 L782.8,110.8 L783.9,110.4 L785.0,109.9 L786.2,109.5 L787.2,109.1 L788.3,108.7 L789.4,108.3 L790.5,107.9 L791.5,107.5 L792.6,107.2 L793.9,106.8 L795.2,106.4 L796.5,106.1 L797.7,105.7 L799.0,105.4 L800.2,105.1 L801.4,104.8 L802.6,104.5 L803.9,104.3 L805.1,104.0 L806.3,103.8 L807.5,103.6 L808.8,103.4 L810.1,103.2 L811.5,103.1 L812.9,102.9 L814.3,102.8 L815.7,102.7 L817.0,102.6 L818.3,102.5 L819.4,102.4 L820.4,102.3 L821.3,102.3 L822.0,102.2" fill="none" stroke="#000000" stroke-width="4.15" stroke-linejoin="round"/>
</g>
<path d="M137.00,22.80 v9.90 M137.00,364.85 v-9.90 M194.08,22.80 v4.60 M194.08,364.85 v-4.60 M251.17,22.80 v4.60 M251.17,364.85 v-4.60 M308.25,22.80 v4.60 M308.25,364.85 v-4.60 M365.33,22.80 v4.60 M365.33,364.85 v-4.60 M422.42,22.80 v9.90 M422.42,364.85 v-9.90 M479.50,22.80 v4.60 M479.50,364.85 v-4.60 M536.58,22.80 v4.60 M536.58,364.85 v-4.60 M593.67,22.80 v4.60 M593.67,364.85 v-4.60 M650.75,22.80 v4.60 M650.75,364.85 v-4.60 M707.83,22.80 v9.90 M707.83,364.85 v-9.90 M764.92,22.80 v4.60 M764.92,364.85 v-4.60 M822.00,22.80 v4.60 M822.00,364.85 v-4.60" stroke="#000" stroke-width="3.90" fill="none"/>
<path d="M137.00,364.85 h10 M822.00,364.85 h-10 M137.00,250.83 h10 M822.00,250.83 h-10 M137.00,136.82 h10 M822.00,136.82 h-10" stroke="#000" stroke-width="3.90" fill="none"/>
<path d="M137.00,330.53 h5.0 M822.00,330.53 h-5.0 M137.00,310.45 h5.0 M822.00,310.45 h-5.0 M137.00,296.21 h5.0 M822.00,296.21 h-5.0 M137.00,285.16 h5.0 M822.00,285.16 h-5.0 M137.00,276.13 h5.0 M822.00,276.13 h-5.0 M137.00,268.49 h5.0 M822.00,268.49 h-5.0 M137.00,261.88 h5.0 M822.00,261.88 h-5.0 M137.00,256.05 h5.0 M822.00,256.05 h-5.0 M137.00,216.51 h5.0 M822.00,216.51 h-5.0 M137.00,196.43 h5.0 M822.00,196.43 h-5.0 M137.00,182.19 h5.0 M822.00,182.19 h-5.0 M137.00,171.14 h5.0 M822.00,171.14 h-5.0 M137.00,162.11 h5.0 M822.00,162.11 h-5.0 M137.00,154.48 h5.0 M822.00,154.48 h-5.0 M137.00,147.87 h5.0 M822.00,147.87 h-5.0 M137.00,142.03 h5.0 M822.00,142.03 h-5.0 M137.00,102.49 h5.0 M822.00,102.49 h-5.0 M137.00,82.42 h5.0 M822.00,82.42 h-5.0 M137.00,68.17 h5.0 M822.00,68.17 h-5.0 M137.00,57.12 h5.0 M822.00,57.12 h-5.0 M137.00,48.09 h5.0 M822.00,48.09 h-5.0 M137.00,40.46 h5.0 M822.00,40.46 h-5.0 M137.00,33.85 h5.0 M822.00,33.85 h-5.0 M137.00,28.02 h5.0 M822.00,28.02 h-5.0" stroke="#000" stroke-width="3.90" fill="none"/>
<rect x="137.00" y="22.80" width="685.00" height="342.05" fill="none" stroke="#000" stroke-width="3.90"/>
<g opacity="0.999" stroke="#000" stroke-width="0.25" font-family="'Liberation Sans', sans-serif" fill="#000">
<text transform="translate(127.38,402.10) scale(1,1.090)" font-size="33.50" text-anchor="start" >0</text>
<text transform="translate(412.42,402.10) scale(1,1.055)" font-size="33.50" text-anchor="start" >5</text>
<path transform="translate(688.48,401.70) scale(0.03550,-0.03550)" d="M347,0 L263,0 L263,508 L102,508 L102,568 C206,582 247,610 289,709 L347,709 Z"/>
<text transform="translate(707.53,402.10) scale(1,1.090)" font-size="33.50" text-anchor="start" >0</text>
<path transform="translate(79.88,39.80) scale(0.03550,-0.03550)" d="M347,0 L263,0 L263,508 L102,508 L102,568 C206,582 247,610 289,709 L347,709 Z"/>
<text transform="translate(99.78,39.90) scale(1,1.090)" font-size="33.50" text-anchor="start" >0</text>
<text transform="translate(118.61,20.20) scale(1,1.000)" font-size="24.00" text-anchor="start" >3</text>
<path transform="translate(79.88,153.82) scale(0.03550,-0.03550)" d="M347,0 L263,0 L263,508 L102,508 L102,568 C206,582 247,610 289,709 L347,709 Z"/>
<text transform="translate(99.78,153.92) scale(1,1.090)" font-size="33.50" text-anchor="start" >0</text>
<text transform="translate(118.53,134.22) scale(1,1.000)" font-size="24.00" text-anchor="start" >2</text>
<path transform="translate(79.88,268.13) scale(0.03550,-0.03550)" d="M347,0 L263,0 L263,508 L102,508 L102,568 C206,582 247,610 289,709 L347,709 Z"/>
<text transform="translate(99.78,267.93) scale(1,1.090)" font-size="33.50" text-anchor="start" >0</text>
<path transform="translate(118.10,248.93) scale(0.02450,-0.02450)" d="M347,0 L263,0 L263,508 L102,508 L102,568 C206,582 247,610 289,709 L347,709 Z"/>
<path transform="translate(79.88,382.15) scale(0.03550,-0.03550)" d="M347,0 L263,0 L263,508 L102,508 L102,568 C206,582 247,610 289,709 L347,709 Z"/>
<text transform="translate(99.78,381.95) scale(1,1.090)" font-size="33.50" text-anchor="start" >0</text>
<text transform="translate(118.53,363.35) scale(1,1.000)" font-size="24.00" text-anchor="start" >0</text>
<text transform="translate(418.00,454.00) scale(1,1.066)" font-size="50.60" text-anchor="start" ><tspan font-style="italic">t</tspan> (</text>
<text transform="translate(460.9,454.1) scale(1.066,1.10)" font-size="50.60">G</text>
<text transform="translate(502.36,454.00) scale(1,1.066)" font-size="50.60" text-anchor="start" >yr)</text>
<path d="M601.4,226.75 H675.0" stroke="#ff0000" stroke-width="4.15" stroke-dasharray="4.90 4.95" fill="none"/>
<text transform="translate(688.50,236.75) scale(1,1.065)" font-size="27.80" text-anchor="start" >LCRn</text>
<path transform="translate(759.18,236.75) scale(0.02830,-0.02830)" d="M347,0 L263,0 L263,508 L102,508 L102,568 C206,582 247,610 289,709 L347,709 Z"/>
<path d="M601.4,259.90 H675.0" stroke="#0000ff" stroke-width="4.15" stroke-dasharray="22.20 7.40" fill="none"/>
<text transform="translate(688.50,269.90) scale(1,1.065)" font-size="27.80" text-anchor="start" >LCRn2</text>
<path d="M601.4,293.05 H675.0" stroke="#008040" stroke-width="4.15" stroke-dasharray="22.20 7.40 7.40 7.40" fill="none"/>
<text transform="translate(688.50,303.05) scale(1,1.065)" font-size="27.80" text-anchor="start" >LCRb</text>
<path d="M601.4,326.20 H675.0" stroke="#000000" stroke-width="4.15" fill="none"/>
<text transform="translate(688.50,336.20) scale(1,1.065)" font-size="27.80" text-anchor="start" >LCR0</text>
<g transform="translate(63.4,313) rotate(-90)">
<text transform="translate(-1.6,0.3) scale(1,1.03)" font-size="54.5" font-style="italic">M</text>
<circle cx="26.5" cy="-49" r="5.1"/>
<text x="53.5" y="0" font-size="52.0">(</text>
<text x="72.3" y="0" font-size="52.0">M</text>
<circle cx="123.8" cy="-0.3" r="12.1" fill="none" stroke="#000" stroke-width="2.6"/>
<circle cx="123.8" cy="-0.3" r="3.6"/>
<text x="142.7" y="0" font-size="52.0">yr</text>
<path d="M188.1,-36.9 H206.2" stroke="#000" stroke-width="2.3" fill="none"/>
<path transform="translate(207.88,-28.80) scale(0.03580,-0.03580)" d="M347,0 L263,0 L263,508 L102,508 L102,568 C206,582 247,610 289,709 L347,709 Z"/>
<text x="227.8" y="0" font-size="52.0">)</text>
</g>
</g>
</svg>
</body></html>
